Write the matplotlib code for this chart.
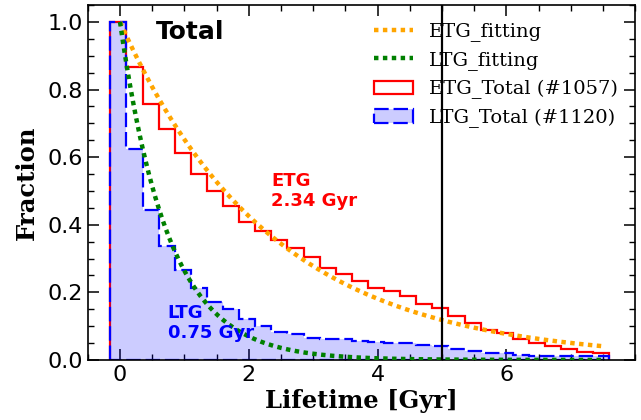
import numpy as np
import matplotlib
matplotlib.use("Agg")
import matplotlib.pyplot as plt

# ---- data ----
bin_start = -0.15
bin_width = 0.25
etg_frac = [1.0, 0.867, 0.758, 0.683, 0.612, 0.551, 0.50, 0.455, 0.408, 0.381,
            0.355, 0.332, 0.306, 0.273, 0.253, 0.234, 0.214, 0.204, 0.188, 0.166,
            0.153, 0.130, 0.108, 0.088, 0.080, 0.062, 0.050, 0.040, 0.031, 0.024,
            0.022]
ltg_frac = [1.0, 0.625, 0.443, 0.337, 0.265, 0.214, 0.172, 0.152, 0.120, 0.101,
            0.084, 0.077, 0.065, 0.063, 0.061, 0.057, 0.052, 0.051, 0.050, 0.045,
            0.042, 0.033, 0.027, 0.022, 0.020, 0.015, 0.013, 0.011, 0.011, 0.011,
            0.011]
tau_etg = 2.34
tau_ltg = 0.75
fit_tmax = 7.5
cut_line = 5.0
labels = ["ETG_fitting", "LTG_fitting", "ETG_Total (#1057)", "LTG_Total (#1120)"]

edges = bin_start + bin_width * np.arange(len(etg_frac) + 1)
centers = 0.5 * (edges[:-1] + edges[1:])
t = np.linspace(0, fit_tmax, 300)

fig = plt.figure(figsize=(6.41, 4.20), dpi=100)
ax = fig.add_axes([0.137, 0.143, 0.854, 0.845])

_, _, p_etg = ax.hist(centers, bins=edges, weights=etg_frac, histtype='step',
                      color='red', lw=1.6, zorder=2)
_, _, p_ltg = ax.hist(centers, bins=edges, weights=ltg_frac, histtype='stepfilled',
                      facecolor=(0, 0, 1, 0.2), edgecolor='blue', lw=1.6,
                      linestyle=(0, (6.5, 2.2)), zorder=2.5)
l_etg, = ax.plot(t, np.exp(-t / tau_etg), color='orange', lw=3.2,
                 linestyle=(0, (1, 1)), zorder=3)
l_ltg, = ax.plot(t, np.exp(-t / tau_ltg), color='green', lw=3.2,
                 linestyle=(0, (1, 1)), zorder=3)
ax.axvline(cut_line, color='black', lw=1.6, zorder=3.5)

ax.set_xlim(-0.5, 8.0)
ax.set_ylim(0, 1.05)
ax.set_xticks([0, 2, 4, 6])
ax.set_xticks(np.arange(-0.5, 8.01, 0.5), minor=True)
ax.set_yticks([0.0, 0.2, 0.4, 0.6, 0.8, 1.0])
ax.set_yticks(np.arange(0, 1.051, 0.05), minor=True)
ax.tick_params(which='both', direction='in', top=True, right=True, labelsize=16)
ax.tick_params(which='major', length=8, width=1.1)
ax.tick_params(which='minor', length=4, width=1.0)
for s in ax.spines.values():
    s.set_linewidth(1.2)

ax.set_xlabel("Lifetime [Gyr]", family='DejaVu Serif', fontweight='bold',
              fontsize=17.5, labelpad=3)
ax.set_ylabel("Fraction", family='DejaVu Serif', fontweight='bold',
              fontsize=17.5, labelpad=6)

ax.text(0.55, 0.97, "Total", fontsize=18, fontweight='bold', va='center')
ax.text(2.35, 0.555, "ETG\n2.34 Gyr", color='red', fontsize=13,
        fontweight='bold', va='top', linespacing=1.1)
ax.text(0.74, 0.165, "LTG\n0.75 Gyr", color='blue', fontsize=13,
        fontweight='bold', va='top', linespacing=1.1)

ax.legend([l_etg, l_ltg, p_etg[0], p_ltg[0]], labels, loc='upper right',
          frameon=False, prop={'family': 'DejaVu Serif', 'size': 14},
          bbox_to_anchor=(1.0, 1.0), handlelength=2.0, labelspacing=0.5)

fig.savefig("out.png", dpi=100)
